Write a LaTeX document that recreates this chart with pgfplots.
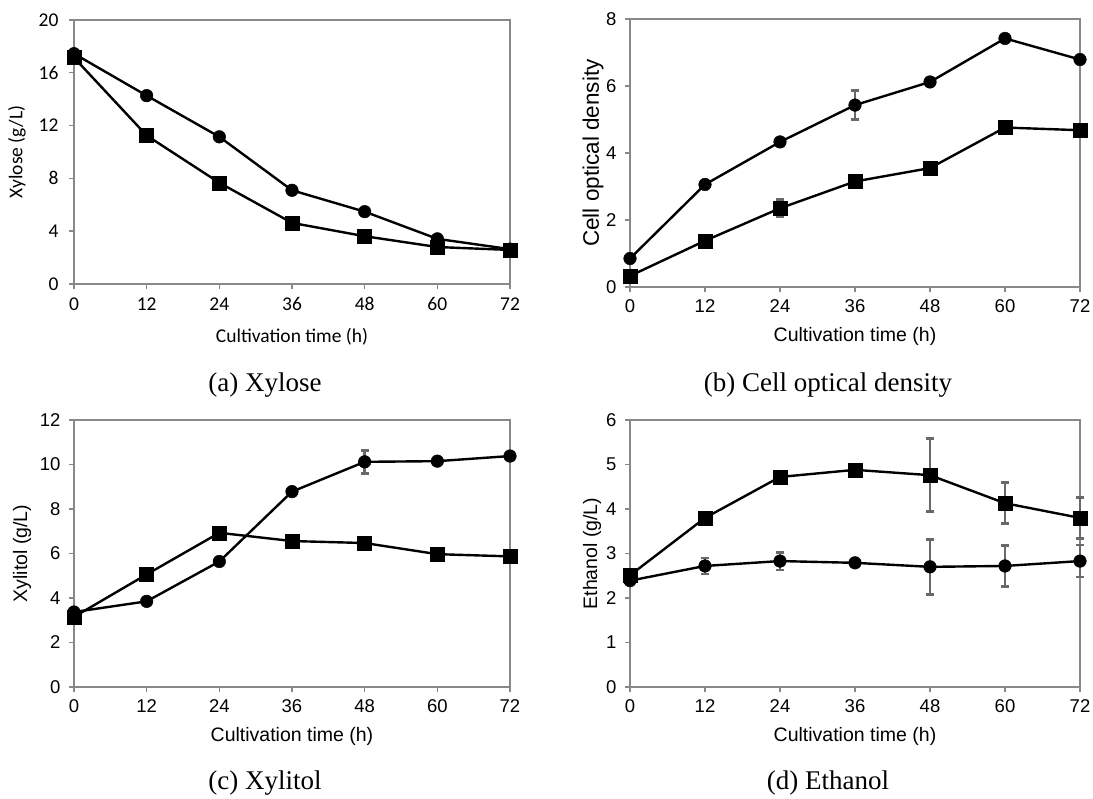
\documentclass[border=0pt]{standalone}
\usepackage{fontspec}
\setmainfont{Liberation Serif}
\newfontfamily\calibri{Carlito}
\newfontfamily\arial{Liberation Sans}
\usepackage{pgfplots}
\pgfplotsset{compat=1.18}
\definecolor{frame}{RGB}{136,136,136}
\definecolor{errc}{RGB}{105,105,105}
\pgfplotsset{
 panel/.style={
  scale only axis, anchor=north west,
  xmin=0, xmax=72, xtick={0,12,...,72}, ymin=0,
  axis line style={draw=frame, line width=1.4pt},
  tick style={draw=frame, line width=1.4pt},
  tick align=outside, major tick length=5pt,
  tick pos=left,
  /pgf/number format/assume math mode=true,
  xlabel={Cultivation time (h)},
  clip=false,
  xlabel style={at={(axis description cs:0.5,0)}, anchor=center},
  ylabel style={at={(axis description cs:0,0.5)}, anchor=center},
 },
 fa/.style={ticklabel style={font=\calibri\fontsize{19.5}{22}\selectfont},
   xticklabel style={yshift=-5pt}, yticklabel style={xshift=-7pt},
   label style={font=\calibri\fontsize{19.5}{22}\selectfont}},
 fb/.style={ticklabel style={font=\arial\fontsize{18.5}{22}\selectfont},
   xticklabel style={yshift=-4pt}, yticklabel style={xshift=-5pt},
   label style={font=\arial\fontsize{19.5}{23}\selectfont}},
 circ/.style={black, line width=2.4pt, mark=*, mark size=6.3pt, mark options={solid, fill=black, line width=0.5pt}},
 sq/.style={black, line width=2.4pt, mark=square*, mark size=7pt, mark options={solid, fill=black, line width=0.5pt}},
 eb/.style={error bars/.cd, y dir=both, y explicit,
   error bar style={draw=errc, line width=2.8pt},
   error mark options={draw=errc, line width=2.8pt, mark size=4pt, rotate=90}},
}
\begin{document}
\begin{tikzpicture}
\useasboundingbox (0,0) rectangle (1093pt,-799pt);

% (a) Xylose
\begin{axis}[panel, fa, at={(74pt,-20pt)}, width=436pt, height=264pt,
  ymax=20, ytick={0,4,...,20}, ylabel={Xylose (g/L)},
  ylabel style={yshift=57pt}, xlabel style={yshift=-53pt}]
\addplot[sq] coordinates {(0,17.15)(12,11.25)(24,7.67)(36,4.63)(48,3.62)(60,2.80)(72,2.58)};
\addplot[circ] coordinates {(0,17.45)(12,14.27)(24,11.15)(36,7.10)(48,5.48)(60,3.42)(72,2.64)};
\end{axis}

% (b) Cell optical density
\begin{axis}[panel, fb, at={(630pt,-19pt)}, width=450pt, height=268pt,
  ymax=8, ytick={0,2,...,8}, ylabel={Cell optical density},
  ylabel style={yshift=37pt, font=\arial\fontsize{22.5}{25}\selectfont},
  xlabel style={yshift=-49pt}]
\addplot[circ, eb] table[x index=0, y index=1, y error index=2] {
0 0.85 0
12 3.06 0
24 4.33 0
36 5.43 0.43
48 6.12 0
60 7.42 0
72 6.79 0
};
\addplot[sq, eb] table[x index=0, y index=1, y error index=2] {
0 0.33 0
12 1.38 0
24 2.35 0.26
36 3.15 0
48 3.55 0
60 4.76 0
72 4.68 0
};
\end{axis}

% (c) Xylitol
\begin{axis}[panel, fb, at={(74pt,-420pt)}, width=436pt, height=267pt,
  ymax=12, ytick={0,2,...,12}, ylabel={Xylitol (g/L)},
  ylabel style={yshift=52pt}, xlabel style={yshift=-49pt}]
\addplot[sq] coordinates {(0,3.15)(12,5.06)(24,6.93)(36,6.56)(48,6.47)(60,5.97)(72,5.87)};
\addplot[circ, eb] table[x index=0, y index=1, y error index=2] {
0 3.37 0
12 3.85 0
24 5.64 0
36 8.78 0
48 10.12 0.52
60 10.15 0
72 10.38 0
};
\end{axis}

% (d) Ethanol
\begin{axis}[panel, fb, at={(630pt,-420pt)}, width=450pt, height=267pt,
  ymax=6, ytick={0,1,...,6}, ylabel={Ethanol (g/L)},
  ylabel style={yshift=38pt}, xlabel style={yshift=-49pt}]
\addplot[sq, eb] table[x index=0, y index=1, y error index=2] {
0 2.51 0
12 3.80 0
24 4.72 0
36 4.88 0
48 4.76 0.82
60 4.13 0.46
72 3.80 0.46
};
\addplot[circ, eb] table[x index=0, y index=1, y error index=2] {
0 2.39 0
12 2.72 0.18
24 2.83 0.20
36 2.79 0
48 2.70 0.62
60 2.72 0.46
72 2.83 0.36
};
\end{axis}

% captions
\node[font=\fontsize{27}{32}\selectfont] at (265pt,-385pt) {(a) Xylose};
\node[font=\fontsize{27}{32}\selectfont] at (828pt,-385pt) {(b) Cell optical density};
\node[font=\fontsize{27}{32}\selectfont] at (265pt,-783pt) {(c) Xylitol};
\node[font=\fontsize{27}{32}\selectfont] at (828pt,-783pt) {(d) Ethanol};
\end{tikzpicture}
\end{document}
